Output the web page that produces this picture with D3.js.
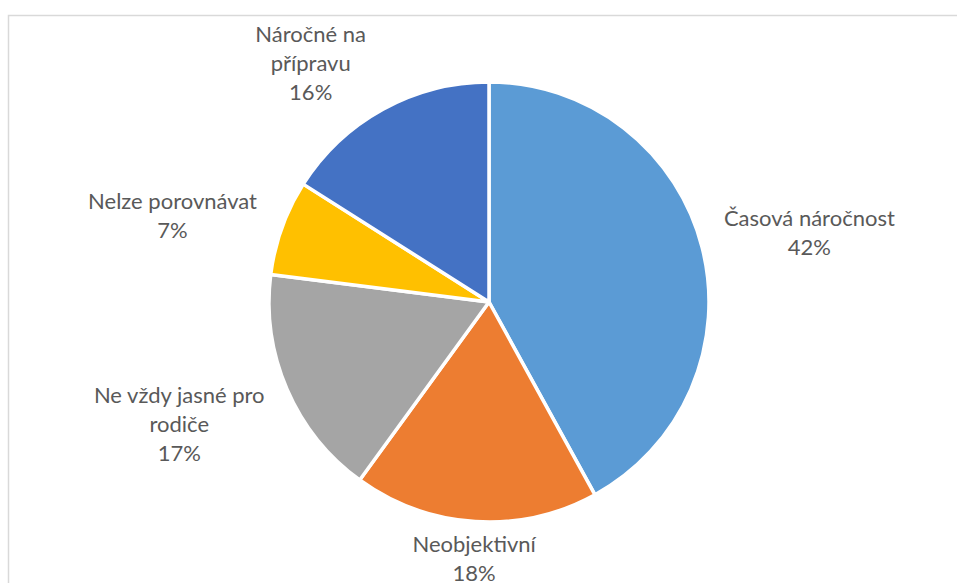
<!DOCTYPE html>
<meta charset="utf-8">
<style>
body { margin: 0; background: white; }
.label { font-family: Lato, "Open Sans", sans-serif; font-size: 22px; fill: #595959; }
</style>
<body>
<svg width="957" height="583"></svg>
<script src="https://d3js.org/d3.v7.min.js"></script>
<script>
// data
var categories = ["Časová náročnost", "Neobjektivní", "Ne vždy jasné pro\nrodiče", "Nelze porovnávat", "Náročné na\npřípravu"];
var values = [42, 18, 17, 7, 16];
var colors = ["#5B9BD5", "#ED7D31", "#A5A5A5", "#FFC000", "#4472C4"];

// label tweaks (excel moves some labels around)
var labelNudge = [[7, -2], [4, -9], [-13, 11], [-13, 5], [-37, 9]];

var cx = 489, cy = 302, radius = 220, gap = 18, lineH = 29;

var svg = d3.select("svg");

svg.append("rect")
    .attr("x", 8.5).attr("y", 15.5)
    .attr("width", 980).attr("height", 600)
    .attr("fill", "white")
    .attr("stroke", "#d9d9d9")
    .attr("stroke-width", 1.5);

var pie = d3.pie().sort(null).value(function(d) { return d; });
var arc = d3.arc().innerRadius(0).outerRadius(radius);
var arcs = pie(values);

var g = svg.append("g").attr("transform", "translate(" + cx + "," + cy + ")");

g.selectAll("path")
    .data(arcs)
  .enter().append("path")
    .attr("d", arc)
    .attr("fill", function(d, i) { return colors[i]; })
    .attr("stroke", "white")
    .attr("stroke-width", 3.5)
    .attr("stroke-linejoin", "round");

var total = d3.sum(values);

arcs.forEach(function(d, i) {
  var lines = categories[i].split("\n");
  lines.push(Math.round(d.value / total * 100) + "%");
  var t = g.append("text").attr("class", "label").attr("text-anchor", "middle");
  lines.forEach(function(l, j) {
    t.append("tspan").attr("x", 0).attr("y", j * lineH).text(l);
  });
  var bb = t.node().getBBox();
  var hw = bb.width / 2, hh = lines.length * lineH / 2;
  var a = (d.startAngle + d.endAngle) / 2;
  var ux = Math.sin(a), uy = -Math.cos(a);
  var px = (radius + gap) * ux + hw * ux + labelNudge[i][0];
  var py = (radius + gap) * uy + hh * uy + labelNudge[i][1];
  // first baseline so that block is centred on (px, py)
  var y0 = py - (lines.length - 1) * lineH / 2 + 7;
  t.attr("transform", "translate(" + px + "," + y0 + ")");
});
</script>
</body>
